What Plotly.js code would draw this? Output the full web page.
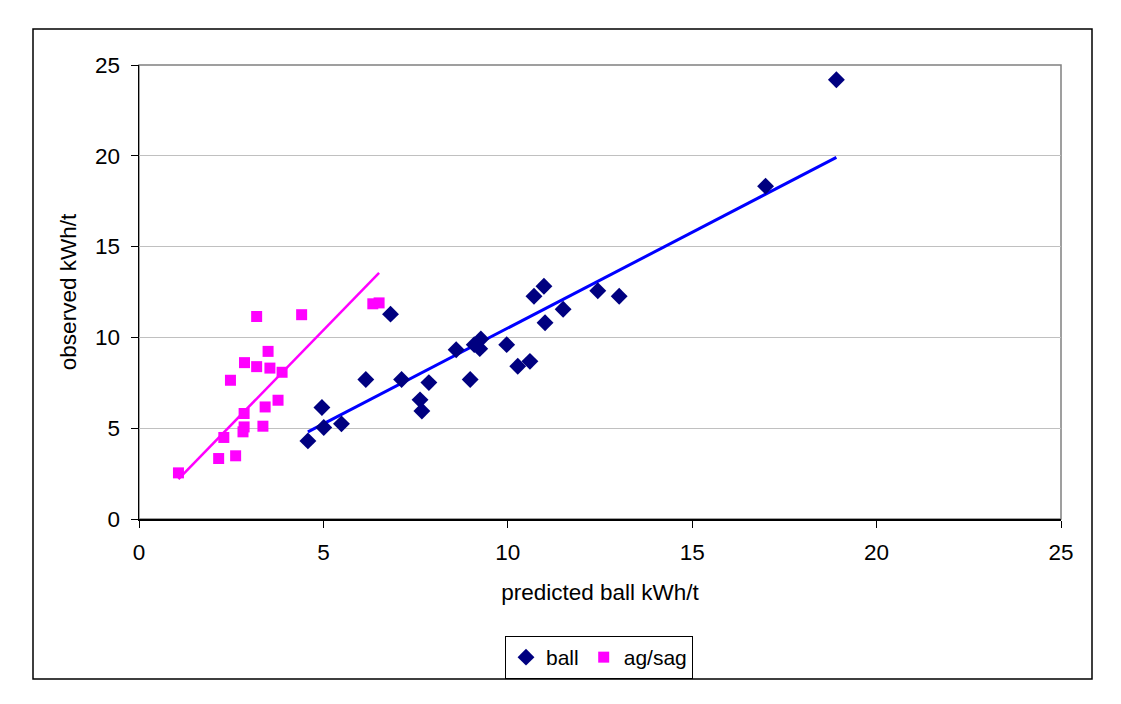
<!DOCTYPE html>
<html>
<head>
<meta charset="utf-8">
<script src="https://cdn.plot.ly/plotly-3.0.1.min.js"></script>
<style>
  html, body { margin: 0; padding: 0; background: #ffffff; }
  #chart { width: 1121px; height: 704px; }
</style>
</head>
<body>
<div id="chart"></div>
<script>
// Ball mill data: predicted vs observed specific energy (kWh/t)
const ballPredicted = [4.58, 4.96, 5.01, 5.49, 6.15, 6.82, 7.12, 7.62, 7.67, 7.86,
                       8.60, 8.98, 9.09, 9.27, 9.24, 9.97, 10.27, 10.60, 10.71, 10.98,
                       11.01, 11.50, 12.44, 13.02, 16.99, 18.91];
const ballObserved  = [4.30, 6.14, 5.04, 5.24, 7.68, 11.28, 7.68, 6.56, 5.95, 7.51,
                       9.32, 7.68, 9.60, 9.91, 9.38, 9.60, 8.41, 8.68, 12.27, 12.82,
                       10.81, 11.55, 12.57, 12.27, 18.33, 24.19];

// AG/SAG mill data
const sagPredicted = [1.07, 2.16, 2.62, 2.30, 2.82, 2.85, 3.36, 2.85, 3.42, 3.77,
                      3.88, 2.48, 2.86, 3.19, 3.55, 3.50, 3.19, 4.41, 6.34, 6.51];
const sagObserved  = [2.54, 3.33, 3.48, 4.49, 4.80, 5.07, 5.11, 5.81, 6.17, 6.54,
                      8.08, 7.64, 8.61, 8.39, 8.31, 9.23, 11.15, 11.25, 11.85, 11.90];

// Linear trendline end points for each series
const ballTrendX = [4.58, 18.91];
const ballTrendY = [4.80, 19.91];
const sagTrendX  = [1.07, 6.51];
const sagTrendY  = [2.20, 13.55];

const axisTicks = [0, 5, 10, 15, 20, 25];

const FONT = 'Liberation Sans, Arial, sans-serif';
const FS = 22.5;

const traces = [
  {
    x: ballTrendX, y: ballTrendY, type: 'scatter', mode: 'lines',
    line: { color: '#0000ff', width: 3 }, showlegend: false, hoverinfo: 'skip'
  },
  {
    x: sagTrendX, y: sagTrendY, type: 'scatter', mode: 'lines',
    line: { color: '#ff00ff', width: 2.5 }, showlegend: false, hoverinfo: 'skip'
  },
  {
    x: ballPredicted, y: ballObserved, type: 'scatter', mode: 'markers', name: 'ball',
    marker: { symbol: 'diamond', size: 13, color: '#000080' }
  },
  {
    x: sagPredicted, y: sagObserved, type: 'scatter', mode: 'markers', name: 'ag/sag',
    marker: { symbol: 'square', size: 11, color: '#ff00ff' }
  }
];

// plot area in pixels
const L = 139, R = 60, T = 65, B = 185, W = 1121, H = 704;
const pw = W - L - R, ph = H - T - B;
const px = v => (v - L) / pw;
const py = v => (H - B - v) / ph;

const layout = {
  width: W, height: H,
  margin: { l: L, r: R, t: T, b: B },
  paper_bgcolor: '#ffffff',
  plot_bgcolor: '#ffffff',
  font: { family: FONT, size: FS, color: '#000000' },
  showlegend: true,
  legend: {
    orientation: 'h', x: px(599), xanchor: 'center', y: py(636), yanchor: 'top',
    bordercolor: '#000000', borderwidth: 1, bgcolor: '#ffffff',
    font: { family: FONT, size: 21, color: '#000000' },
    itemwidth: 30, tracegroupgap: 0
  },
  xaxis: {
    range: [0, 25], tickvals: axisTicks, ticktext: axisTicks.map(String),
    showgrid: false, zeroline: false,
    showline: true, linecolor: '#000000', linewidth: 1.5,
    ticks: 'outside', ticklen: 7, tickcolor: '#000000', tickwidth: 1,
    ticklabelstandoff: 5,
    tickfont: { family: FONT, size: FS },
    title: { text: 'predicted ball kWh/t', font: { family: FONT, size: FS }, standoff: 20 }
  },
  yaxis: {
    range: [0, 25], tickvals: axisTicks, ticktext: axisTicks.map(String),
    showgrid: true, gridcolor: '#c0c0c0', gridwidth: 1, zeroline: false,
    showline: true, linecolor: '#000000', linewidth: 1.5,
    ticks: 'outside', ticklen: 7, tickcolor: '#000000', tickwidth: 1,
    ticklabelstandoff: 6,
    tickfont: { family: FONT, size: FS },
    title: { text: 'observed kWh/t', font: { family: FONT, size: FS }, standoff: 12 }
  },
  shapes: [
    // plot-area frame (top and right edges show in grey)
    { type: 'rect', xref: 'paper', yref: 'paper', x0: 0, x1: 1, y0: 0, y1: 1,
      line: { color: '#808080', width: 1.5 }, layer: 'below' },
    // outer chart border
    { type: 'rect', xref: 'paper', yref: 'paper',
      x0: px(33), x1: px(1092), y0: py(679), y1: py(29),
      line: { color: '#000000', width: 1.5 } }
  ]
};

Plotly.newPlot('chart', traces, layout, { displayModeBar: false, staticPlot: true });
</script>
</body>
</html>
